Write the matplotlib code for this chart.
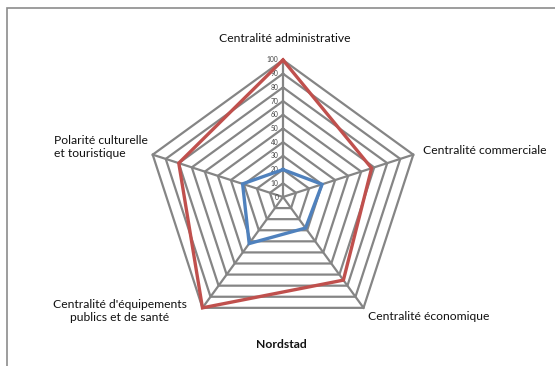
import numpy as np
import matplotlib.pyplot as plt
from matplotlib.patches import Rectangle

plt.rcParams['font.family'] = ['Lato', 'DejaVu Sans']

categories = ['Centralité administrative', 'Centralité commerciale', 'Centralité économique',
              "Centralité d'équipements\npublics et de santé", 'Polarité culturelle\net touristique']
serie_rouge = [100, 68, 75, 100, 80]
serie_bleue = [20, 30, 28, 42, 31]
ticks = [0, 10, 20, 30, 40, 50, 60, 70, 80, 90, 100]
titre = 'Nordstad'

W, H = 555, 366
cx, cy, R = 283, 197, 137  # pixel position of centre and radius of 100

fig = plt.figure(figsize=(W / 100, H / 100), dpi=100)
fig.patch.set_facecolor('white')
ax = fig.add_axes([0, 0, 1, 1])
k = R / 100.0
ax.set_xlim(-cx / k, (W - cx) / k)
ax.set_ylim(-(H - cy) / k, cy / k)
ax.set_aspect('equal')
ax.axis('off')

n = len(categories)
ang = np.pi / 2 - np.arange(n) * 2 * np.pi / n

def xy(vals):
    v = np.asarray(vals, dtype=float)
    x = v * np.cos(ang)
    y = v * np.sin(ang)
    return np.append(x, x[0]), np.append(y, y[0])

grid_col = '#858585'
for t in ticks[1:]:
    gx, gy = xy([t] * n)
    ax.plot(gx, gy, color=grid_col, lw=1.6, zorder=1)
for a in ang:
    ax.plot([0, 100 * np.cos(a)], [0, 100 * np.sin(a)], color=grid_col, lw=1.6, zorder=1)

for t in ticks:
    ax.text(-3.5, t, str(t), fontsize=4.8, color='#444444', ha='right', va='center', zorder=3)

rx, ry = xy(serie_rouge)
ax.plot(rx, ry, color='#c0504d', lw=2.4, zorder=4, solid_joinstyle='miter')
bx, by = xy(serie_bleue)
ax.plot(bx, by, color='#4f81bd', lw=2.4, zorder=4, solid_joinstyle='miter')

def ft(px, py, s, **kw):
    fig.text(px / W, 1 - py / H, s, fontsize=8.7, color='#111111', **kw)

ft(285, 38, categories[0], ha='center', va='center')
ft(423, 150, categories[1], ha='left', va='center')
ft(368, 316, categories[2], ha='left', va='center')
ft(120, 311, categories[3], ha='center', va='center', multialignment='center', linespacing=1.2)
ft(54, 147, categories[4], ha='left', va='center', multialignment='left', linespacing=1.2)
ft(281, 344, titre, ha='center', va='center', fontweight='bold')

fig.patches.append(Rectangle((7 / W, -0.1), 1.2, 1 - 8 / H + 0.1, transform=fig.transFigure,
                             fill=False, edgecolor='#8c8c8c', lw=1.2))

fig.savefig('out.png', dpi=100)
